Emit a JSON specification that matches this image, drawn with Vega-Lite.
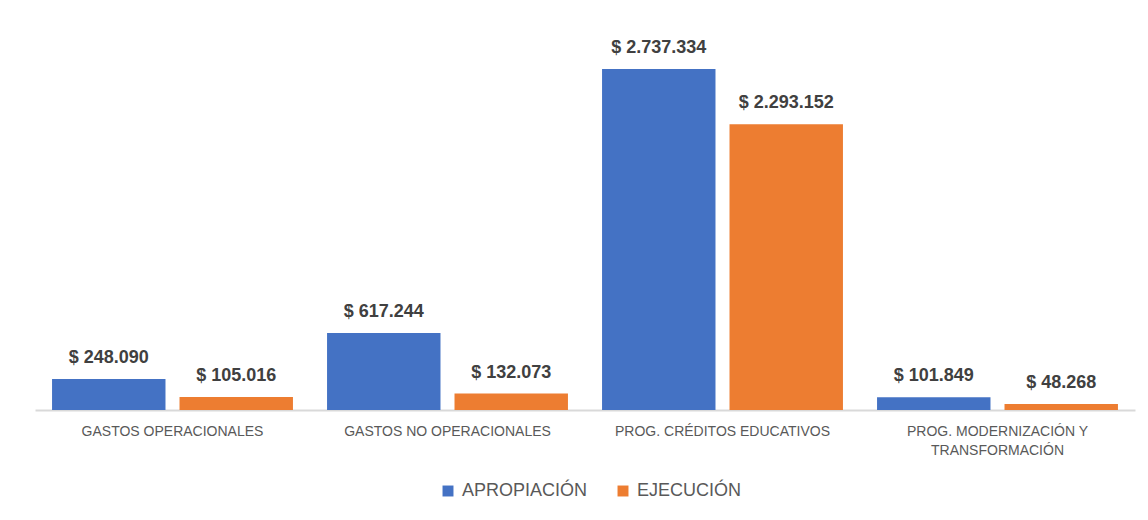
{
  "$schema": "https://vega.github.io/schema/vega-lite/v6.json",
  "autosize": "none",
  "width": 1100,
  "height": 380,
  "padding": {"left": 35, "top": 30, "right": 13, "bottom": 110},
  "background": "white",
  "config": {
    "view": {"stroke": null},
    "font": "Liberation Sans",
    "locale": {"number": {"decimal": ",", "thousands": ".", "grouping": [3], "currency": ["$ ", ""]}}
  },
  "data": {
    "values": [
      {"categoria": "GASTOS OPERACIONALES", "serie": "APROPIACIÓN", "valor": 248090},
      {"categoria": "GASTOS OPERACIONALES", "serie": "EJECUCIÓN", "valor": 105016},
      {"categoria": "GASTOS NO OPERACIONALES", "serie": "APROPIACIÓN", "valor": 617244},
      {"categoria": "GASTOS NO OPERACIONALES", "serie": "EJECUCIÓN", "valor": 132073},
      {"categoria": "PROG. CRÉDITOS EDUCATIVOS", "serie": "APROPIACIÓN", "valor": 2737334},
      {"categoria": "PROG. CRÉDITOS EDUCATIVOS", "serie": "EJECUCIÓN", "valor": 2293152},
      {"categoria": "PROG. MODERNIZACIÓN Y TRANSFORMACIÓN", "serie": "APROPIACIÓN", "valor": 101849},
      {"categoria": "PROG. MODERNIZACIÓN Y TRANSFORMACIÓN", "serie": "EJECUCIÓN", "valor": 48268}
    ]
  },
  "encoding": {
    "x": {
      "field": "categoria",
      "type": "nominal",
      "sort": null,
      "scale": {"paddingInner": 0.124, "paddingOuter": 0.062},
      "axis": {
        "title": null,
        "labelAngle": 0,
        "labelFontSize": 14,
        "labelColor": "#595959",
        "labelPadding": 14,
        "labelLineHeight": 19,
        "labelLimit": 0,
        "ticks": false,
        "domainColor": "#d9d9d9",
        "domainWidth": 2,
        "labelExpr": "datum.value == 'PROG. MODERNIZACIÓN Y TRANSFORMACIÓN' ? ['PROG. MODERNIZACIÓN Y', 'TRANSFORMACIÓN'] : datum.value"
      }
    },
    "xOffset": {
      "field": "serie",
      "type": "nominal",
      "sort": ["APROPIACIÓN", "EJECUCIÓN"],
      "scale": {"paddingInner": 0.11, "paddingOuter": 0}
    },
    "y": {
      "field": "valor",
      "type": "quantitative",
      "scale": {"domain": [0, 3050000], "nice": false},
      "axis": null
    }
  },
  "layer": [
    {
      "mark": {"type": "bar"},
      "encoding": {
        "color": {
          "field": "serie",
          "type": "nominal",
          "sort": ["APROPIACIÓN", "EJECUCIÓN"],
          "scale": {"range": ["#4472C4", "#ED7D31"]},
          "legend": {
            "title": null,
            "orient": "none",
            "legendX": 404,
            "legendY": 452,
            "direction": "horizontal",
            "labelFontSize": 18,
            "labelColor": "#595959",
            "symbolType": "square",
            "symbolSize": 120,
            "symbolStrokeWidth": 0,
            "columnPadding": 26,
            "labelOffset": 5
          }
        }
      }
    },
    {
      "mark": {"type": "text", "baseline": "bottom", "dy": -12, "fontSize": 18, "fontWeight": "bold", "color": "#404040"},
      "encoding": {
        "text": {"field": "valor", "type": "quantitative", "format": "$,.0f"}
      }
    }
  ]
}
